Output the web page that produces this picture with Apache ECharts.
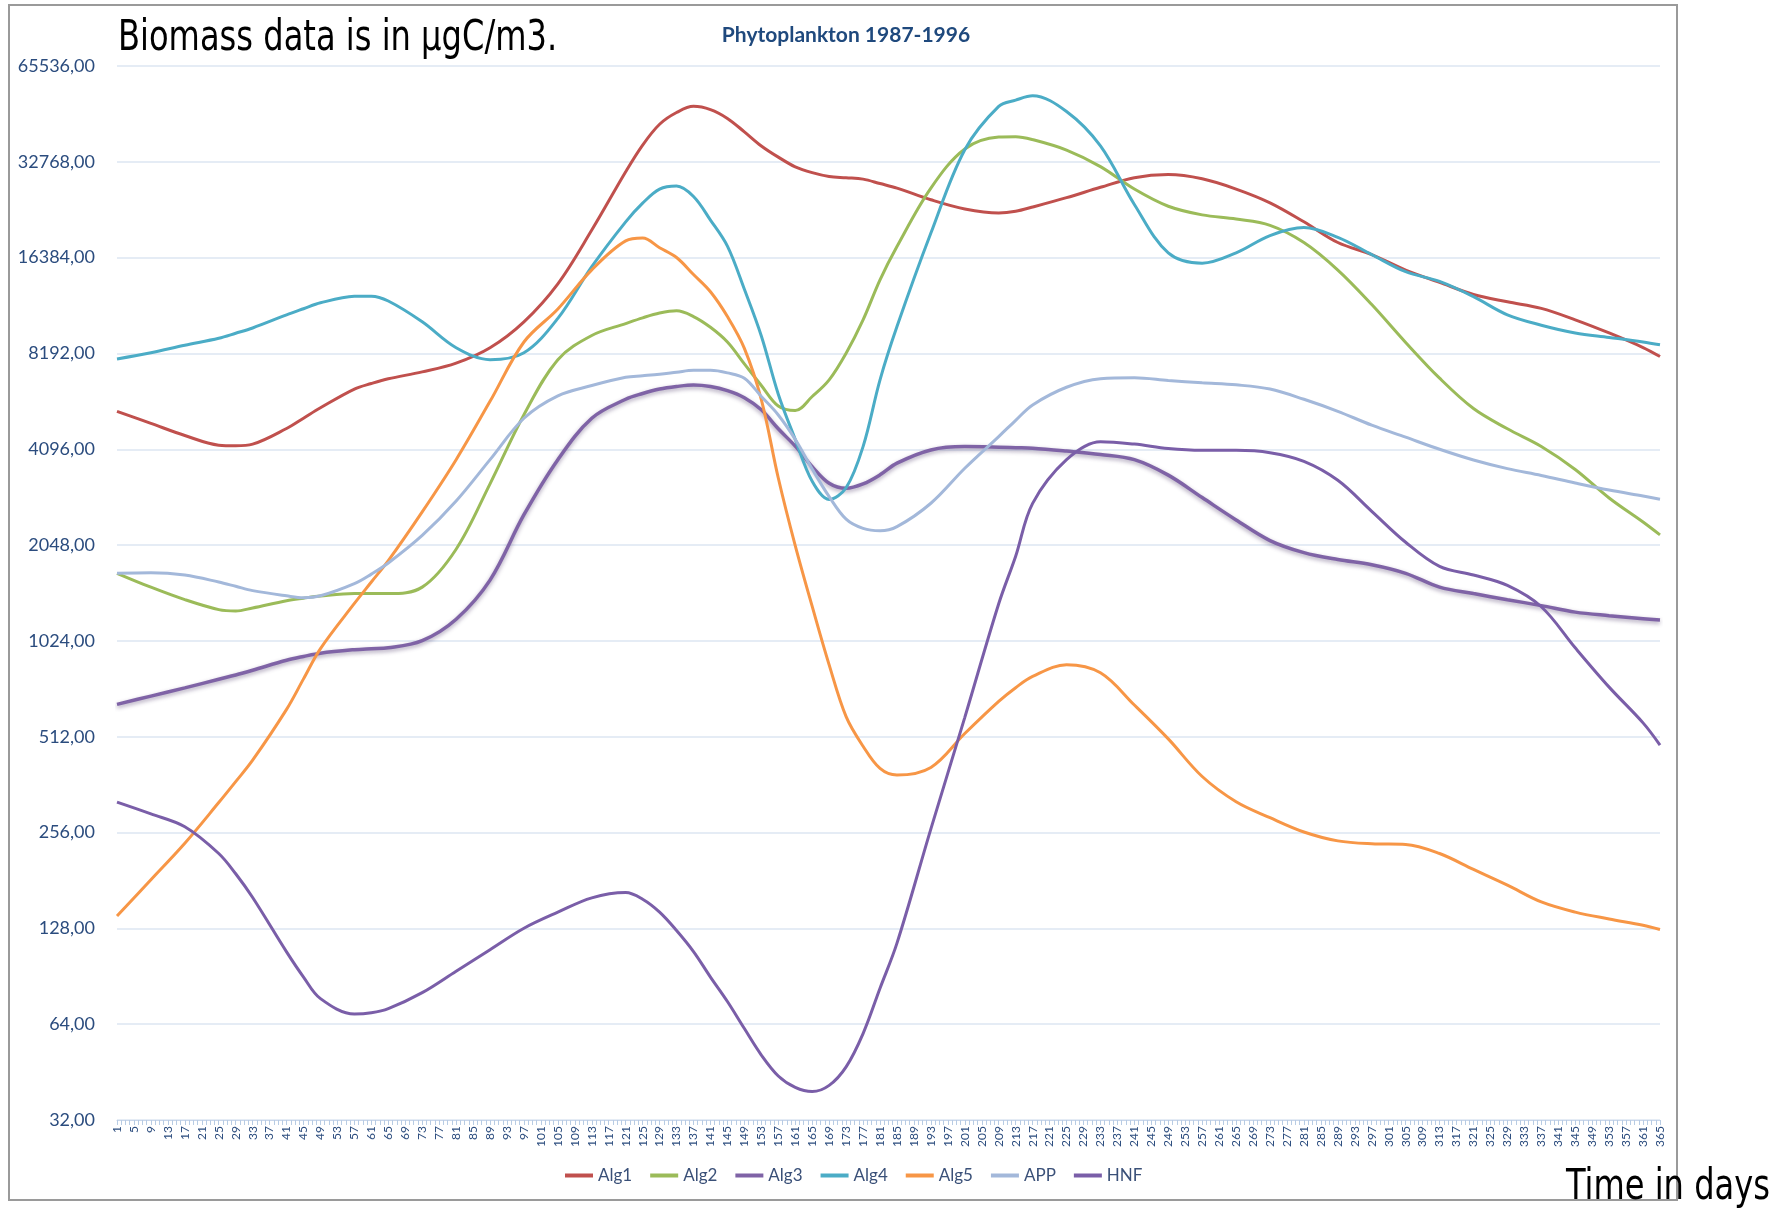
<!DOCTYPE html>
<html>
<head>
<meta charset="utf-8">
<title>Phytoplankton 1987-1996</title>
<script src="https://cdn.jsdelivr.net/npm/echarts@6/dist/echarts.min.js"></script>
<style>
    html, body { margin: 0; padding: 0; background: #fff; }
    #chart { width: 1792px; height: 1208px; }
</style>
</head>
<body>
<div id="chart"></div>
<script>
    'use strict';

    // day of year for every sample
    var days = [1, 9, 17, 25, 29, 33, 41, 45, 49, 57, 61, 65, 73, 81, 89, 97, 105, 113, 121, 125, 129,
        133, 137, 141, 145, 149, 153, 157, 161, 165, 169, 173, 177, 181, 185, 193, 201, 209, 213, 217,
        225, 233, 241, 249, 257, 265, 273, 281, 289, 297, 305, 313, 321, 329, 337, 345, 353, 361, 365];

    var alg1 = [5390, 4940, 4525, 4220, 4200, 4250, 4760, 5130, 5530, 6330, 6590, 6820, 7170, 7640,
        8540, 10300, 13560, 20000, 30500, 37000, 43000, 46800, 48950, 47800, 44850, 40700, 36760,
        33900, 31600, 30300, 29470, 29200, 28910, 28000, 27100, 24900, 23290, 22620, 22900, 23630,
        25290, 27250, 29220, 29880, 28980, 26910, 24360, 21230, 18280, 16750, 14980, 13700, 12550,
        11900, 11350, 10450, 9500, 8550, 8010];

    var alg2 = [1670, 1510, 1380, 1284, 1271, 1300, 1370, 1395, 1417, 1442, 1442, 1442, 1511, 1988,
        3190, 5260, 7830, 9330, 10170, 10600, 10970, 11150, 10700, 9900, 8900, 7600, 6500, 5600, 5420,
        6000, 6770, 8210, 10450, 13960, 17760, 27100, 35960, 39200, 39300, 38470, 35670, 31650, 26910,
        23760, 22320, 21660, 20700, 18280, 14980, 11670, 8870, 6850, 5500, 4750, 4180, 3540, 2880,
        2420, 2204];

    var alg3 = [647, 687, 729, 776, 800, 828, 890, 915, 937, 961, 968, 974, 1026, 1198, 1590, 2551,
        3800, 5127, 5880, 6130, 6333, 6450, 6520, 6450, 6260, 5950, 5450, 4750, 4190, 3613, 3205,
        3090, 3188, 3404, 3704, 4076, 4176, 4160, 4145, 4130, 4045, 3946, 3800, 3397, 2888, 2457,
        2116, 1939, 1844, 1777, 1670, 1511, 1442, 1380, 1322, 1261, 1229, 1203, 1191];

    var alg4 = [7870, 8230, 8690, 9140, 9480, 9850, 10830, 11320, 11820, 12380, 12400, 11970, 10300,
        8540, 7830, 8230, 10560, 15350, 21230, 24300, 26900, 27500, 25500, 21500, 17800, 13030, 9300,
        6100, 4400, 3250, 2850, 3100, 4176, 6770, 9950, 19570, 35770, 48920, 51200, 52840, 47150,
        36760, 24070, 16960, 15740, 16960, 19220, 20360, 18980, 16750, 14800, 13790, 12350, 10830,
        10050, 9500, 9200, 8900, 8720];

    var alg5 = [140, 182, 237, 318, 370, 432, 624, 778, 969, 1343, 1568, 1830, 2604, 3798, 5793, 8900,
        11300, 15000, 18500, 18880, 17600, 16400, 14500, 12800, 10700, 8500, 5870, 3327, 2040, 1314,
        861, 592, 478, 407, 388, 410, 524, 661, 730, 792, 862, 813, 644, 504, 384, 320, 285, 257, 241,
        236, 235, 220, 196, 175, 155, 144, 137, 131, 127];

    var app = [1670, 1678, 1649, 1568, 1520, 1473, 1419, 1400, 1419, 1549, 1660, 1799, 2196, 2817,
        3800, 5127, 6030, 6495, 6894, 6970, 7050, 7150, 7250, 7250, 7120, 6850, 6000, 5250, 4400,
        3550, 2908, 2470, 2310, 2270, 2340, 2772, 3571, 4490, 5050, 5646, 6415, 6824, 6876, 6740,
        6624, 6527, 6333, 5880, 5390, 4877, 4470, 4096, 3790, 3560, 3390, 3210, 3050, 2920, 2854];

    var hnf = [319, 293, 267, 220, 190, 160, 108, 90, 77, 68.9, 69.5, 71.6, 80.4, 93.9, 109.7, 128.1,
        143.9, 159.6, 165.8, 158, 143.9, 126, 108.2, 90, 75.4, 62, 51.2, 44, 40.5, 39.3, 41.1, 47, 59.8,
        83, 115, 263, 589, 1340, 1890, 2770, 3800, 4326, 4252, 4116, 4064, 4064, 3995, 3753, 3272,
        2615, 2090, 1755, 1649, 1530, 1311, 974, 733, 566, 482];

    var seriesNames = ['Alg1', 'Alg2', 'Alg3', 'Alg4', 'Alg5', 'APP', 'HNF'];
    var seriesValues = [alg1, alg2, alg3, alg4, alg5, app, hnf];
    var seriesColors = ['#C0504D', '#9BBB59', '#7F63A6', '#4BACC6', '#F79646', '#A3B8DA', '#7A5EA8'];

    var pairs = function (values) {
        return days.map(function (d, i) {
            return [d, values[i]];
        });
    };

    var labelColor = '#2B4C7E';
    var narrowFont = '"Liberation Sans Narrow", "DejaVu Sans Condensed", sans-serif';

    var series = seriesNames.map(function (name, i) {
        var line = {
            color: seriesColors[i],
            width: 3
        };
        if (name === 'Alg3') {
            line.width = 3.5;
            line.shadowColor = 'rgba(70, 50, 100, 0.45)';
            line.shadowBlur = 4;
            line.shadowOffsetY = 2;
        }
        return {
            name: name,
            type: 'line',
            data: pairs(seriesValues[i]),
            smooth: 0.35,
            showSymbol: false,
            symbol: 'none',
            lineStyle: line,
            itemStyle: { color: seriesColors[i] }
        };
    });

    var chart = echarts.init(document.getElementById('chart'), null, { renderer: 'canvas' });

    chart.setOption({
        animation: false,
        backgroundColor: '#ffffff',
        title: {
            text: 'Phytoplankton 1987-1996',
            left: 841,
            top: 20,
            textAlign: 'center',
            textStyle: {
                fontFamily: 'Lato, "Open Sans", sans-serif',
                fontSize: 21,
                fontWeight: 'bold',
                color: '#1F497D'
            }
        },
        graphic: [{
            type: 'rect',
            shape: { x: 9, y: 5, width: 1668, height: 1195 },
            style: { fill: 'none', stroke: '#9a9a9a', lineWidth: 2 },
            z: -1
        }, {
            type: 'text',
            x: 118,
            y: 18,
            scaleX: 0.85,
            style: {
                text: 'Biomass data is in µgC/m3.',
                fontFamily: narrowFont,
                fontSize: 42,
                fill: '#000'
            }
        }, {
            type: 'text',
            x: 1566,
            y: 1167,
            scaleX: 0.85,
            style: {
                text: 'Time in days',
                fontFamily: narrowFont,
                fontSize: 42,
                fill: '#000'
            }
        }],
        legend: {
            data: seriesNames,
            left: 560,
            top: 1162,
            icon: 'rect',
            itemWidth: 28,
            itemHeight: 4,
            itemGap: 18,
            textStyle: {
                fontFamily: 'Lato, "Open Sans", sans-serif',
                fontSize: 17,
                color: '#3A5078'
            }
        },
        grid: {
            left: 117,
            right: 132,
            top: 66,
            bottom: 88
        },
        xAxis: {
            type: 'value',
            min: 1,
            max: 365,
            interval: 4,
            axisLine: { show: true, lineStyle: { color: '#C9D6EA', width: 1 } },
            axisTick: { show: true, length: 5, lineStyle: { color: '#B8CCE4' } },
            minorTick: { show: true, splitNumber: 4, length: 5, lineStyle: { color: '#B8CCE4' } },
            splitLine: { show: false },
            axisLabel: {
                rotate: 90,
                margin: 6,
                fontFamily: 'Lato, "Open Sans", sans-serif',
                fontSize: 12,
                color: labelColor,
                showMinLabel: true,
                showMaxLabel: true
            }
        },
        yAxis: {
            type: 'log',
            logBase: 2,
            min: 32,
            max: 65536,
            interval: 1,
            axisLine: { show: false },
            axisTick: { show: false },
            splitLine: { lineStyle: { color: '#DCE6F2', width: 1.5 } },
            axisLabel: {
                margin: 22,
                fontFamily: 'Lato, "Open Sans", sans-serif',
                fontSize: 18,
                color: labelColor,
                formatter: function (v) {
                    return v.toFixed(2).replace('.', ',');
                }
            }
        },
        series: series
    });
</script>
</body>
</html>
